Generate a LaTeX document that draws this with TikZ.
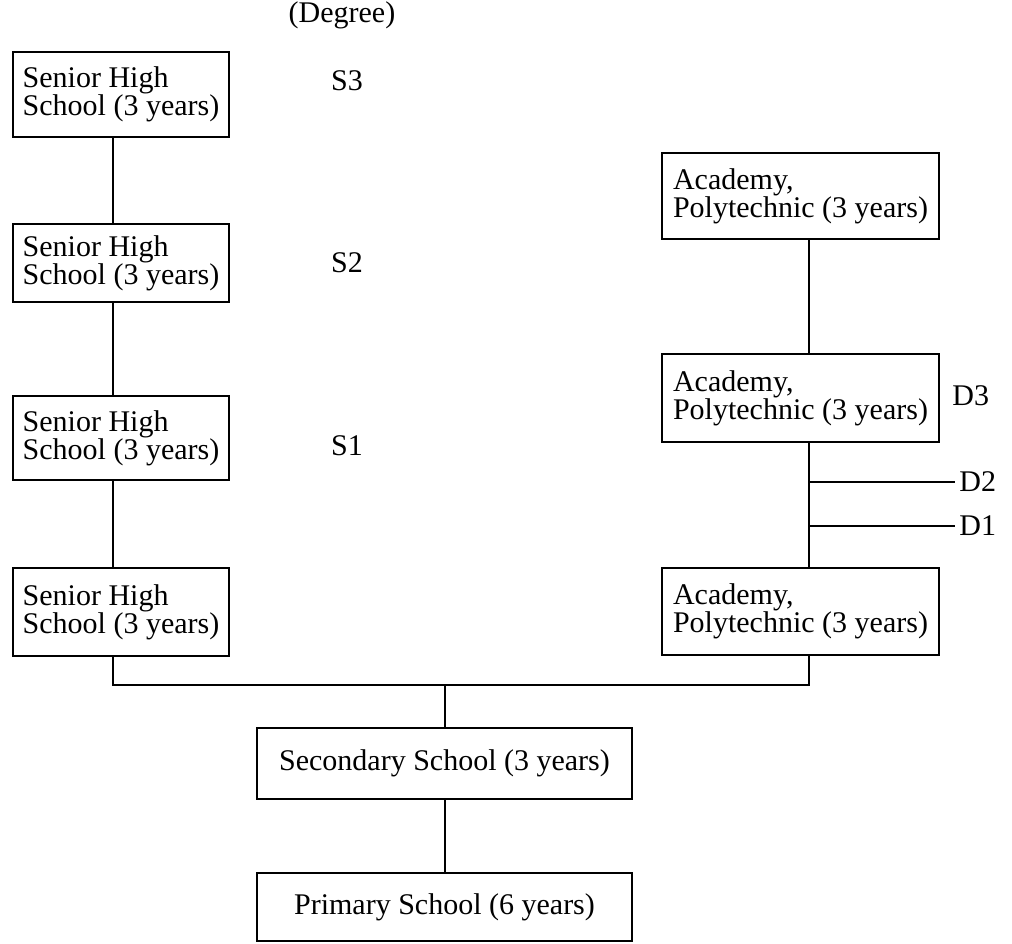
\documentclass[tikz,border=0pt]{standalone}
\usepackage{fontspec}
\setmainfont{Liberation Serif}
\begin{document}
\begin{tikzpicture}[x=0.5pt,y=-0.5pt,
  txt/.style={font=\fontsize{15}{14}\selectfont},
  box/.style={txt, draw, line width=1.4pt, align=left, inner sep=0pt},
  wide/.style={txt, draw, line width=1.4pt, align=center, inner sep=0pt,
               minimum width=187.5pt},
  lab/.style={txt, inner sep=0pt},
  link/.style={line width=1.3pt}]
\useasboundingbox (0,0) rectangle (1012,943);

% Senior high school column
\node[box, minimum width=108pt, minimum height=42.5pt] (s3) at (121,94.5) {Senior High\\School (3 years)};
\node[box, minimum width=108pt, minimum height=39pt]   (s2) at (121,263)  {Senior High\\School (3 years)};
\node[box, minimum width=108pt, minimum height=42pt]   (s1) at (121,438)  {Senior High\\School (3 years)};
\node[box, minimum width=108pt, minimum height=44pt]   (s0) at (121,612)  {Senior High\\School (3 years)};

% Academy / polytechnic column
\node[box, minimum width=138.5pt, minimum height=43pt]   (a2) at (800.5,196)   {Academy,\\Polytechnic (3 years)};
\node[box, minimum width=138.5pt, minimum height=44pt]   (a1) at (800.5,398)   {Academy,\\Polytechnic (3 years)};
\node[box, minimum width=138.5pt, minimum height=43.5pt] (a0) at (800.5,611.5) {Academy,\\Polytechnic (3 years)};

% Lower schools
\node[wide, minimum height=35.5pt] (sec) at (444.5,763.5) {Secondary School (3 years)};
\node[wide, minimum height=34pt]   (pri) at (444.5,907)   {Primary School (6 years)};

% Degree labels
\node[lab, anchor=base] (deg) at (342,22)  {(Degree)};
\node[lab, anchor=base] (ls3) at (347,90)  {S3};
\node[lab, anchor=base] (ls2) at (347,272) {S2};
\node[lab, anchor=base] (ls1) at (347,455) {S1};
\node[lab, anchor=base west] (ld3) at (952,405) {D3};
\node[lab, anchor=west] (ld2) at (959,482) {D2};
\node[lab, anchor=west] (ld1) at (959,526) {D1};

% Connector guides
\coordinate (lx) at (113,0);
\coordinate (rx) at (809,0);
\coordinate (cx) at (445,0);
\coordinate (bus) at (0,685);

% Left column links
\draw[link] (s3.south -| lx) -- (s2.north -| lx);
\draw[link] (s2.south -| lx) -- (s1.north -| lx);
\draw[link] (s1.south -| lx) -- (s0.north -| lx);

% Right column links
\draw[link] (a2.south -| rx) -- (a1.north -| rx);
\draw[link] (a1.south -| rx) -- (a0.north -| rx);

% Branches to D2 and D1
\draw[link] (rx |- ld2.west) -- ([xshift=-2pt]ld2.west);
\draw[link] (rx |- ld1.west) -- ([xshift=-2pt]ld1.west);

% Bus joining both columns to secondary school
\draw[link] (s0.south -| lx) -- (lx |- bus) -- (rx |- bus) -- (a0.south -| rx);
\draw[link] (cx |- bus) -- (sec.north -| cx);
\draw[link] (sec.south -| cx) -- (pri.north -| cx);
\end{tikzpicture}
\end{document}
